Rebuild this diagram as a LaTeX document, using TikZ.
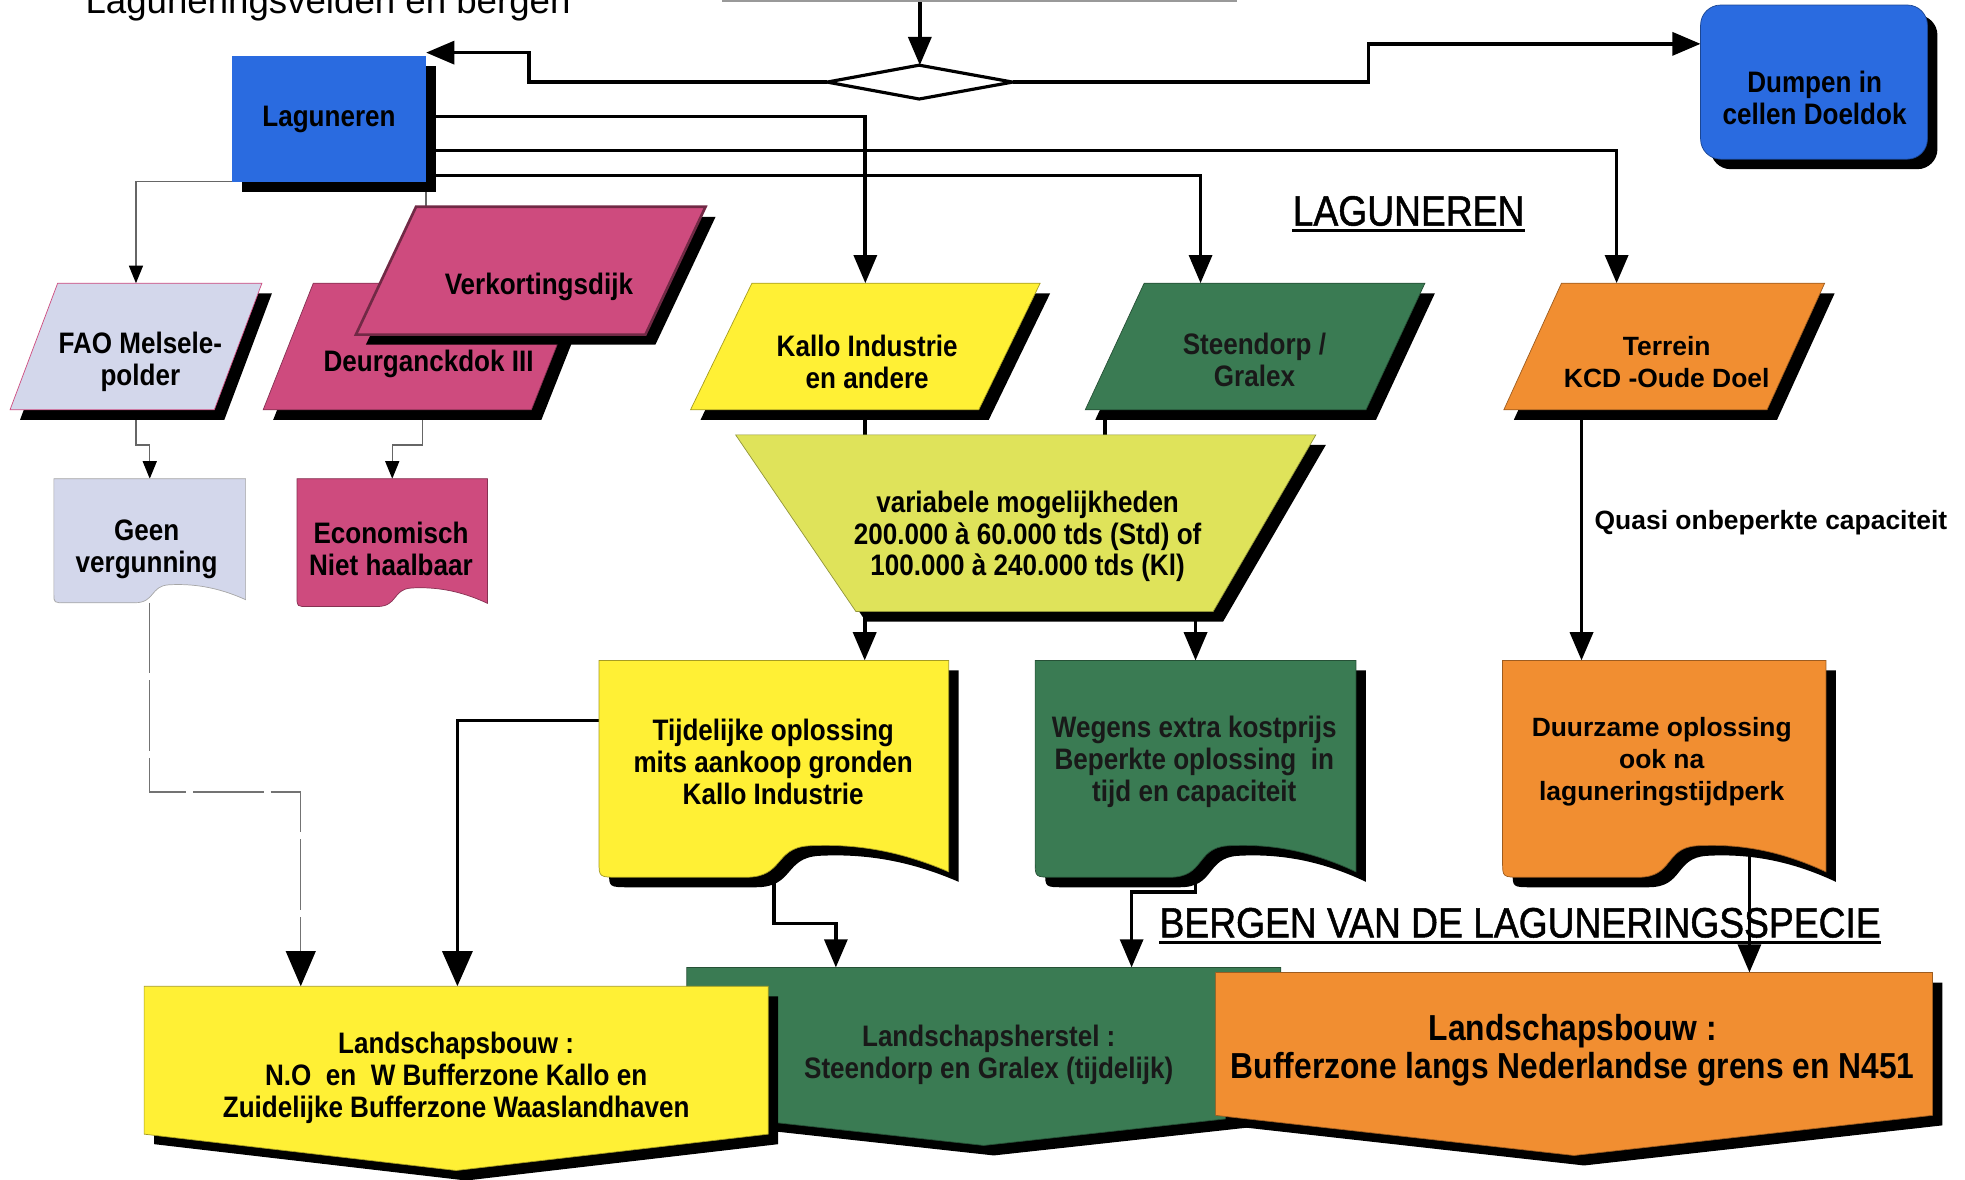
\documentclass[tikz,border=0pt]{standalone}
\usepackage{fontspec}
\setmainfont{Liberation Sans}
\newfontfamily\narrowfont{Liberation Sans}[FakeStretch=0.88]
\newfontfamily\headfamily{Liberation Sans}[FakeStretch=0.88,FakeBold=1.2]
\usetikzlibrary{arrows.meta,fit,shadows}
\pgfdeclarelayer{bg}
\pgfsetlayers{bg,main}

\definecolor{blu}{HTML}{2A6BE0}
\definecolor{lav}{HTML}{D3D7EB}
\definecolor{pnk}{HTML}{CE4B7E}
\definecolor{yel}{HTML}{FFF035}
\definecolor{ygr}{HTML}{DFE35A}
\definecolor{grn}{HTML}{3A7B53}
\definecolor{org}{HTML}{F18E31}

\newcommand{\nbf}{\narrowfont\bfseries\fontsize{16.8}{18.1}\selectfont}
\newcommand{\wbf}{\bfseries\fontsize{15}{18.1}\selectfont}
\newcommand{\bigbf}{\narrowfont\bfseries\fontsize{20.5}{22}\selectfont}
\newcommand{\headfont}{\headfamily\fontsize{24}{26}\selectfont}

% parallelogram: name, look, x top left, x bottom left, width, y top, y bottom
\newcommand{\shpara}[7]{%
  \filldraw[#2] (#3,#6) -- ({#3+#5},#6) -- ({#4+#5},#7) -- (#4,#7) -- cycle;
  \node[box,fit={(#4,#6) ({#3+#5},#7)}] (#1) {};}
% document: name, look, x0, y0, x1, y1
\newcommand{\shdoc}[6]{%
  \filldraw[#2] (#3,#4) -- (#5,#4) -- (#5,{#4+0.975*(#6-#4)})
    .. controls ({#3+0.85*(#5-#3)},{#4+0.87*(#6-#4)}) and ({#3+0.72*(#5-#3)},{#4+0.845*(#6-#4)}) .. ({#3+0.6*(#5-#3)},{#4+0.855*(#6-#4)})
    .. controls ({#3+0.5*(#5-#3)},{#4+0.865*(#6-#4)}) and ({#3+0.53*(#5-#3)},#6) .. ({#3+0.42*(#5-#3)},#6)
    -- ({#3+0.06*(#5-#3)},#6) .. controls (#3,#6) .. (#3,{#4+0.93*(#6-#4)}) -- cycle;
  \node[box,fit={(#3,#4) (#5,#6)}] (#1) {};}
% box with pointed bottom: name, look, x0, y0, x1, y side, y point
\newcommand{\shpent}[7]{%
  \filldraw[#2] (#3,#4) -- (#5,#4) -- (#5,#6) -- ({(#3+#5)/2},#7) -- (#3,#6) -- cycle;
  \node[box,fit={(#3,#4) (#5,#7)}] (#1) {};}
% trapezoid: name, look, x top left, x top right, x bottom left, x bottom right, y top, y bottom
\newcommand{\shtrap}[8]{%
  \filldraw[#2] (#3,#7) -- (#4,#7) -- (#6,#8) -- (#5,#8) -- cycle;
  \node[box,fit={(#3,#7) (#4,#8)}] (#1) {};}

\begin{document}
\begin{tikzpicture}
[x=0.025cm,y=-0.025cm,
 box/.style={inner sep=0pt,outer sep=0pt},
 sh/.style={drop shadow={shadow xshift=0.2cm,shadow yshift=-0.2cm,fill=black,opacity=1}},
 shp/.style={sh,fill=#1,draw=#1!65!black,line width=0.4pt},
 flat/.style={fill=#1,draw=#1!65!black,line width=0.4pt},
 txt/.style={font=\nbf,align=center,inner sep=0pt},
 wtxt/.style={font=\wbf,align=center,inner sep=0pt},
 head/.style={font=\headfont,inner sep=0pt},
 ul/.style={line width=1.8pt},
 conn/.style={line width=2.1pt,-{Triangle[width=13pt,length=16pt]}},
 bigconn/.style={line width=2.1pt,-{Triangle[width=17pt,length=20pt]}},
 stem/.style={line width=2.1pt},
 fineline/.style={draw=black!60,line width=0.7pt},
 finearr/.style={draw=black!60,line width=0.7pt,-{Triangle[width=8pt,length=10pt,color=black]}},
 dasharr/.style={draw=black!55,line width=0.7pt,dash pattern=on 40pt off 4pt,-{Triangle[width=17pt,length=20pt,color=black]}}]
\useasboundingbox (0,0) rectangle (1568,941);
\clip (0,0) rectangle (1568,941);

% top
\node[box,draw=black!40,line width=2.5pt,fit={(578,-80) (985,0)}] (topbox) {};
\filldraw[fill=white,line width=1.8pt] (660,65.5) -- (733.5,52) -- (808,65.5) -- (733.5,79) -- cycle;
\node[box,fit={(660,52) (808,79)}] (dia) {};
\node[box,sh,fill=blu,minimum width=3.875cm,minimum height=2.5cm,font=\nbf] (lag) at (262.5,95) {Laguneren};
\filldraw[shp=blu,rounded corners=0.4cm] (1357,4) rectangle (1538,127);
\node[box,fit={(1357,4) (1538,127)}] (dump) {};

% left
\shpara{fao}{shp=lav,draw=pnk}{46}{8}{163}{226}{327}
\shpara{deur}{shp=pnk}{250}{210}{214}{226}{327}
\shpara{verk}{shp=pnk,draw=pnk!55!black,line width=1.5pt}{332}{284}{231}{165}{267}
\shdoc{geen}{flat=lav,draw=black!35}{43}{382}{196}{481}
\shdoc{econ}{flat=pnk}{237}{382}{389}{484}

% middle
\shpara{kallo}{shp=yel}{600}{551}{230}{226}{327}
\shpara{steen}{shp=grn}{913}{866}{224}{226}{327}
\shpara{terr}{shp=org}{1246}{1200}{210}{226}{327}
\shtrap{var}{shp=ygr}{587}{1050}{683}{968}{347}{488}
\shdoc{tijd}{shp=yel}{478}{527}{757}{700}
\shdoc{weg}{shp=grn}{826}{527}{1082}{700}
\shdoc{duur}{shp=org}{1199}{527}{1457}{700}

% bottom
\shpent{gherst}{shp=grn}{548}{772}{1022}{888}{914}
\shpent{ybouw}{shp=yel}{115}{787}{613}{905}{934}
\shpent{obouw}{shp=org}{970}{776}{1542}{890}{922}

% texts
\node[anchor=base west,inner sep=0pt,font=\fontsize{20.8}{24}\selectfont] (kop) at (68,11) {Laguneringsvelden en bergen};
\node[txt] (dumpt) at (1448,78) {Dumpen in\\cellen Doeldok};
\node[txt] (faot) at (112,289) {FAO Melsele-\\polder};
\node[txt] (deurt) at (342,290) {Deurganckdok III};
\node[txt] (verkt) at (430,229) {Verkortingsdijk};
\node[txt] (geent) at (117,438) {Geen\\vergunning};
\node[txt] (econt) at (312,438) {Economisch\\Niet haalbaar};
\node[txt] (kallot) at (692,289) {Kallo Industrie\\en andere};
\node[txt,text=black!90] (steent) at (1001,287) {Steendorp /\\Gralex};
\node[wtxt] (terrt) at (1330,289) {Terrein\\KCD -Oude Doel};
\node[txt] (vart) at (820,428) {variabele mogelijkheden\\200.000 à 60.000 tds (Std) of\\100.000 à 240.000 tds (Kl)};
\node[txt] (tijdt) at (617,608) {Tijdelijke oplossing\\mits aankoop gronden\\Kallo Industrie};
\node[txt,text=black!90] (wegt) at (953,608) {Wegens extra kostprijs\\Beperkte oplossing~ in\\tijd en capaciteit};
\node[wtxt] (duurt) at (1326,608) {Duurzame oplossing\\ook na\\laguneringstijdperk};
\node[txt] (ybout) at (364,860) {Landschapsbouw :\\N.O~ en~ W Bufferzone Kallo en\\Zuidelijke Bufferzone Waaslandhaven};
\node[txt,text=black!90] (ghert) at (789,842) {Landschapsherstel :\\Steendorp en Gralex (tijdelijk)};
\node[txt,font=\bigbf] (obout) at (1255,838) {Landschapsbouw :\\Bufferzone langs Nederlandse grens en N451};
\node[head,anchor=base] (lagkop) at (1124,180) {LAGUNEREN};
\node[head,anchor=base] (bergkop) at (1213,748) {BERGEN VAN DE LAGUNERINGSSPECIE};
\draw[ul] ([yshift=-3pt]lagkop.base west) -- ([yshift=-3pt]lagkop.base east);
\draw[ul] ([yshift=-3pt]bergkop.base west) -- ([yshift=-3pt]bergkop.base east);

% connectors
\begin{pgfonlayer}{bg}
\draw[conn] (topbox.south -| dia.north) -- (dia.north);
\draw[conn] (dia.west) -| (422,42) -- (lag.east |- 422,42);
\draw[conn] (dia.east) -| (1092,35) -- (dump.west |- 1092,35);
\draw[conn] (lag.east |- 0,93) -| (kallo.north);
\draw[conn] (lag.east |- 0,120) -| (terr.north -| 1290,0);
\draw[conn] (lag.east |- 0,140) -| (steen.north -| 958,0);
\draw[finearr] (lag.south west) -| (fao.north);
\draw[fineline] (lag.south east) -- (verk.north -| lag.south east);
\draw[finearr] (fao.south) -- ++(0,28) -| (geen.north);
\draw[finearr] (deur.south) -- ++(0,28) -| (econ.north);
\draw[dasharr] (geen.south) -- ++(0,151) -| (ybouw.north -| 240,0);
\draw[stem] (kallo.south) -- (kallo.south |- var.north);
\draw[stem] (steen.south -| 882,0) -- (var.north -| 882,0);
\draw[conn] (var.south -| 690,0) -- (tijd.north -| 690,0);
\draw[conn] (var.south -| weg.north) -- (weg.north);
\draw[conn] (terr.south -| 1262,0) -- node[wtxt,pos=0.45,anchor=west,xshift=0.225cm] (quasi) {Quasi onbeperkte capaciteit} (duur.north -| 1262,0);
\draw[bigconn] (tijd.west |- 0,575) -| (ybouw.north -| 365,0);
\draw[conn] (tijd.south) -- ++(0,37) -| (gherst.north -| 667,0);
\draw[conn] (weg.south) -- ++(0,12) -| (gherst.north -| 903,0);
\draw[conn] (duur.center -| 1396,0) -- (obouw.north -| 1396,0);
\end{pgfonlayer}
\end{tikzpicture}
\end{document}
